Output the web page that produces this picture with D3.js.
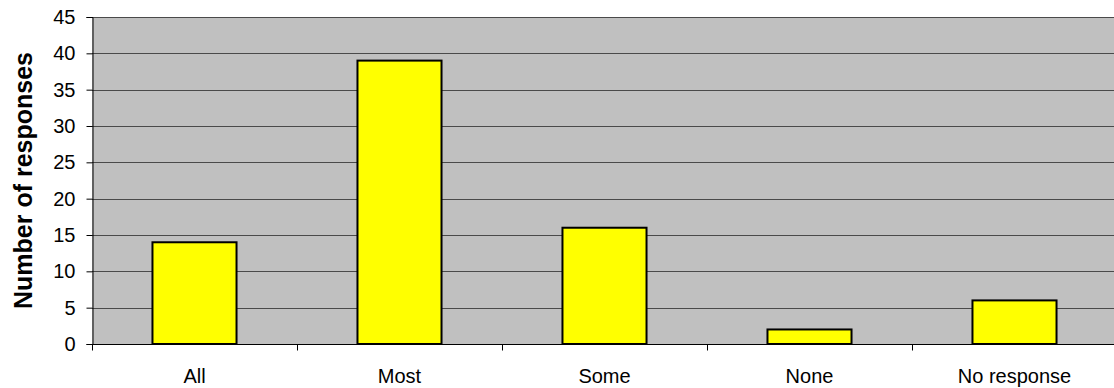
<!DOCTYPE html>
<html lang="en">
<head>
<meta charset="utf-8">
<title>Number of responses</title>
<script src="https://cdn.jsdelivr.net/npm/d3@7"></script>
<style>
  body { margin: 0; background: #fff; font-family: "Liberation Sans", Arial, sans-serif; }
  svg { display: block; }
  .tick text { font-family: "Liberation Sans", Arial, sans-serif; fill: #000; }
  .grid line { stroke: #4a4a4a; stroke-width: 1; }
</style>
</head>
<body>
<div id="chart"></div>
<script>
// data
const categories = ["All", "Most", "Some", "None", "No response"]
const responses = [14, 39, 16, 2, 6]
const yTicks = [0, 5, 10, 15, 20, 25, 30, 35, 40, 45]

const width = 1114, height = 388
const margin = { top: 17, right: -3, bottom: 44, left: 92 }

const svg = d3.select("#chart").append("svg")
    .attr("width", width)
    .attr("height", height)

const x = d3.scaleBand()
    .domain(categories)
    .range([margin.left, width - margin.right])
    .paddingInner(0.59)
    .paddingOuter(0.295)

const xOuter = d3.scaleBand()
    .domain(categories)
    .range([margin.left, width - margin.right])

const y = d3.scaleLinear()
    .domain([0, 45])
    .range([height - margin.bottom, margin.top])

// plot area
svg.append("rect")
    .attr("x", margin.left)
    .attr("y", margin.top)
    .attr("width", width - margin.right - margin.left)
    .attr("height", y(0) - margin.top)
    .attr("fill", "#c0c0c0")

// gridlines
svg.append("g")
    .attr("class", "grid")
    .selectAll("line")
    .data(yTicks.slice(1))
    .join("line")
    .attr("x1", margin.left)
    .attr("x2", width)
    .attr("y1", d => Math.round(y(d)) + 0.5)
    .attr("y2", d => Math.round(y(d)) + 0.5)

// bars
svg.append("g")
    .selectAll("rect")
    .data(responses)
    .join("rect")
    .attr("x", (d, i) => x(categories[i]))
    .attr("y", d => y(d))
    .attr("width", x.bandwidth())
    .attr("height", d => y(0) - y(d))
    .attr("fill", "#ffff00")
    .attr("stroke", "#000")
    .attr("stroke-width", 2)

// y axis
svg.append("g")
    .attr("transform", "translate(" + (margin.left + 0.5) + ",0)")
    .call(d3.axisLeft(y).tickValues(yTicks).tickSize(6).tickPadding(11))
    .call(g => g.selectAll(".tick text").attr("font-size", 20))
    .call(g => g.selectAll("path, line").attr("stroke", "#000"))

// x axis, ticks between categories
const xAxis = svg.append("g")
    .attr("transform", "translate(0," + (Math.round(y(0)) + 0.5) + ")")

xAxis.append("line")
    .attr("x1", margin.left)
    .attr("x2", width)
    .attr("stroke", "#000")

xAxis.selectAll(".sep")
    .data(categories)
    .join("line")
    .attr("class", "sep")
    .attr("x1", d => Math.round(xOuter(d)) + 0.5)
    .attr("x2", d => Math.round(xOuter(d)) + 0.5)
    .attr("y1", 0)
    .attr("y2", 6)
    .attr("stroke", "#000")

xAxis.selectAll(".lbl")
    .data(categories)
    .join("text")
    .attr("class", "lbl")
    .attr("x", d => xOuter(d) + xOuter.bandwidth() / 2)
    .attr("y", 38)
    .attr("text-anchor", "middle")
    .attr("font-size", 20)
    .text(d => d)

// axis title
svg.append("text")
    .attr("transform", "translate(32," + (margin.top + (y(0) - margin.top) / 2) + ") rotate(-90)")
    .attr("text-anchor", "middle")
    .attr("font-size", 25)
    .attr("font-weight", "bold")
    .text("Number of responses")
</script>
</body>
</html>
